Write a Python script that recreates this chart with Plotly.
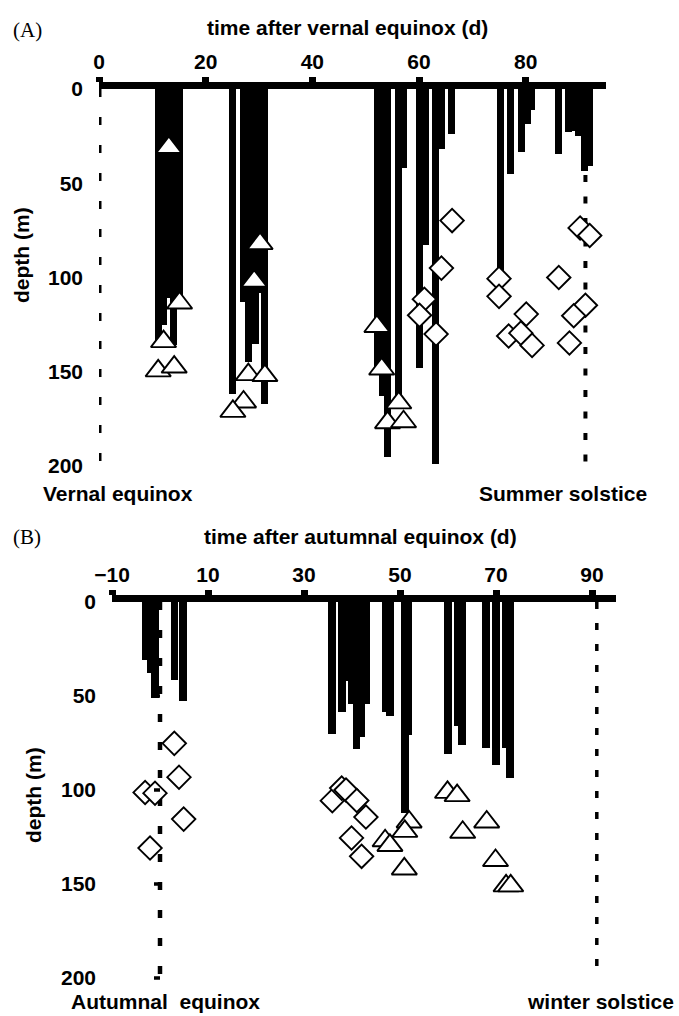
import plotly.graph_objects as go

W, H = 679, 1016

# ---------------- Panel A: after vernal equinox ----------------
a_bar_day = [11.15, 12.15, 13.05, 14.05, 15.05,
             25.05, 27.1, 28.1, 29.3, 30.1, 31.1,
             52.15, 53.2, 54.1, 56.15, 57.1, 60.1, 61.3, 63.1, 64.15, 66.1,
             75.3, 77.2, 79.2, 80.25, 81.1, 86.15, 88.1, 89.0, 89.9, 91.05, 92.05]
a_bar_depth = [133, 125, 111, 136, 110,
               162, 113, 145, 135, 108, 167,
               150, 163, 195, 165, 42, 148, 83, 199, 32, 24,
               100, 45, 33.5, 18.7, 11, 34.6, 22.7, 22.5, 25, 43.4, 40.8]

a_tri_day = [13.1, 15.1, 12.1, 11.1, 14.1,
             30.2, 29.1, 28.0, 31.1, 27.1, 25.1,
             52.1, 53.0, 56.2, 54.1, 57.1]
a_tri_depth = [31, 113.5, 134, 149.5, 147.5,
               82, 102, 151.5, 152, 166, 171,
               126, 148.5, 166.5, 177, 176.5]

a_dia_day = [66.2, 64.2, 61.0, 60.1, 63.2,
             75.0, 75.0, 80.1, 76.8, 79.1, 81.2,
             86.2, 90.2, 92.0, 91.2, 89.0, 88.2]
a_dia_depth = [69.8, 95, 111.5, 120, 130,
               100.6, 110, 119.4, 131, 129.5, 136,
               100, 73.7, 77.7, 114.7, 120.3, 134.7]

a_xticks = [0, 20, 40, 60, 80]
a_equinox_day = 0
a_solstice_day = 91.2

# ---------------- Panel B: after autumnal equinox ----------------
b_bar_day = [-3.0, -1.95, -1.05, 3.0, 4.75,
             35.85, 37.95, 38.98, 40.03, 40.95, 42.0, 42.95,
             47.0, 47.95, 51.0, 51.8,
             60.0, 62.05, 62.95, 67.95, 69.95, 72.0, 72.95]
b_bar_depth = [31, 38, 51, 41.5, 52.5,
               70, 58.4, 42, 54, 78, 72, 54,
               58.5, 60.5, 112.3, 70.7,
               80.8, 66, 76, 77.8, 86.7, 77.8, 93.7]

b_tri_day = [51.9, 51.0, 46.9, 47.9, 50.9,
             59.9, 61.9, 63.06, 68.06, 69.9, 72.1, 73.06]
b_tri_depth = [117, 122, 127, 129.5, 142,
               101.3, 103, 122.5, 117, 137.5, 151, 151]

b_dia_day = [2.98, 3.96, -3.1, -1.04, 4.93, -2.08,
             35.9, 37.85, 38.75, 41.0, 42.9, 39.9, 42.0]
b_dia_depth = [75.2, 93.2, 101.3, 101.7, 115.5, 130.9,
               105.7, 99, 100, 105.6, 114.4, 125.5, 135.3]

b_xticks = [-10, 10, 30, 50, 70, 90]
b_equinox_day = 0
b_solstice_day = 91

depth_ticks = [0, 50, 100, 150, 200]

BOLD = dict(family="Liberation Sans, Arial, sans-serif", size=21, color="black", weight="bold")
SERIF = dict(family="Liberation Serif, Times New Roman, serif", size=21, color="black")


def fx(p):
    return p / W


def fy(p):
    return 1 - p / H


fig = go.Figure()

panels = [
    ("x", "y", a_bar_day, a_bar_depth, 1.3, a_tri_day, a_tri_depth, a_dia_day, a_dia_depth),
    ("x2", "y2", b_bar_day, b_bar_depth, 1.6, b_tri_day, b_tri_depth, b_dia_day, b_dia_depth),
]
for xa, ya, bd, bdep, bw, td, tdep, dd, ddep in panels:
    fig.add_trace(go.Bar(x=bd, y=bdep, base=0, width=bw, xaxis=xa, yaxis=ya,
                         marker=dict(color="black", line=dict(width=0)),
                         showlegend=False))
    fig.add_trace(go.Scatter(x=dd, y=ddep, mode="markers", xaxis=xa, yaxis=ya,
                             marker=dict(symbol="diamond", size=18, color="white",
                                         line=dict(color="black", width=1.9)),
                             cliponaxis=False, showlegend=False))
    fig.add_trace(go.Scatter(x=td, y=tdep, mode="markers", xaxis=xa, yaxis=ya,
                             marker=dict(symbol="triangle-up", size=22, color="white",
                                         line=dict(color="black", width=1.9)),
                             cliponaxis=False, showlegend=False))

xcommon = dict(side="top", showline=True, linewidth=7, linecolor="black",
               ticks="outside", ticklen=5, tickwidth=7, tickcolor="black",
               showgrid=False, zeroline=False, tickfont=BOLD, fixedrange=True,
               automargin=False)
ycommon = dict(range=[203, 0], tickvals=depth_ticks, ticks="", showline=False,
               showgrid=False, zeroline=False, tickfont=BOLD, ticklabelstandoff=15,
               fixedrange=True, automargin=False)

fig.update_layout(
    width=W, height=H,
    margin=dict(l=0, r=0, t=0, b=0, autoexpand=False),
    paper_bgcolor="white", plot_bgcolor="white",
    barmode="overlay", bargap=0,
    xaxis=dict(domain=[fx(99), fx(605.7)], range=[0, 95], tickvals=a_xticks,
               anchor="y", **xcommon),
    yaxis=dict(domain=[fy(471.7), fy(89)], anchor="x", **ycommon),
    xaxis2=dict(domain=[fx(112), fx(616)], range=[-10, 95], tickvals=b_xticks,
                anchor="y2", **xcommon),
    yaxis2=dict(domain=[fy(983.6), fy(602)], anchor="x2", **ycommon),
)

# dashed reference lines: equinox (y axis) and solstice
for xr, yr, xv, dash, lw in [("x", "y", a_equinox_day, "8px,20px", 5),
                              ("x", "y", a_solstice_day, "7px,14.5px", 4),
                              ("x2", "y2", b_equinox_day, "8px,20px", 4.5),
                              ("x2", "y2", b_solstice_day, "7px,14px", 3.5)]:
    fig.add_shape(type="line", xref=xr, yref=yr, x0=xv, x1=xv, y0=0, y1=200,
                  line=dict(color="black", width=lw, dash=dash), layer="below")

# depth tick marks on the equinox axis
for xr, yr, xv in [("x", "y", a_equinox_day), ("x2", "y2", b_equinox_day)]:
    for v in depth_ticks:
        fig.add_shape(type="line", xref=xr, yref=yr, xsizemode="pixel", xanchor=xv,
                      x0=-6, x1=0, y0=v, y1=v,
                      line=dict(color="black", width=3.5))

labels = [
    ("(A)", 27, 30, 0, SERIF),
    ("time after vernal equinox (d)", 347, 28, 0, BOLD),
    ("depth (m)", 21, 255, -90, BOLD),
    ("Vernal equinox", 117.5, 493, 0, BOLD),
    ("Summer solstice", 562.5, 493, 0, BOLD),
    ("(B)", 27, 537, 0, SERIF),
    ("time after autumnal equinox (d)", 360, 536, 0, BOLD),
    ("depth (m)", 33, 795, -90, BOLD),
    ("Autumnal\u00a0 equinox", 165, 1001, 0, BOLD),
    ("winter solstice", 600, 1001, 0, BOLD),
]
for text, x, y, ang, font in labels:
    fig.add_annotation(text=text, x=fx(x), y=fy(y), xref="paper", yref="paper",
                       xanchor="center", yanchor="middle", showarrow=False,
                       textangle=ang, font=font)

fig.write_html("out.html")
